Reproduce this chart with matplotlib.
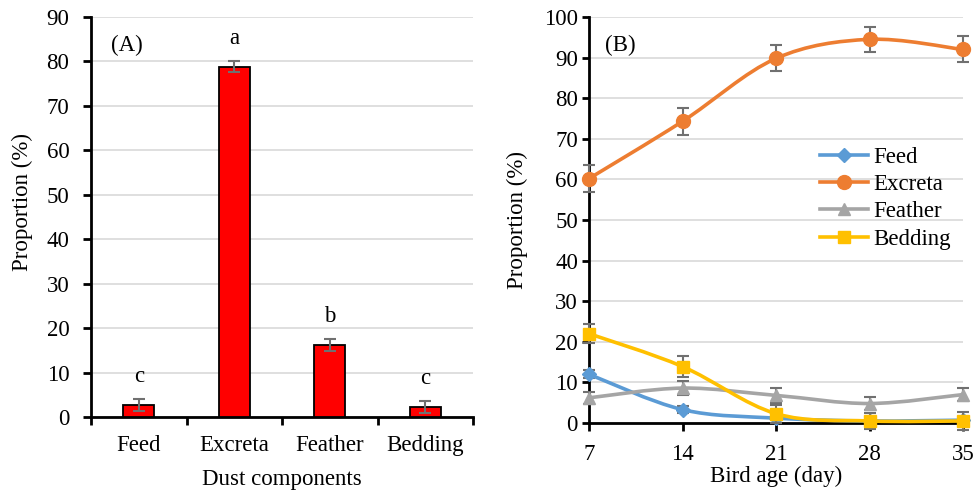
import numpy as np
import matplotlib
matplotlib.use("Agg")
import matplotlib.pyplot as plt
from matplotlib.path import Path
from matplotlib.patches import PathPatch
from matplotlib.lines import Line2D

plt.rcParams['font.family'] = ['Liberation Serif', 'DejaVu Serif']

# ---------------- data ----------------
components = ["Feed", "Excreta", "Feather", "Bedding"]
comp_values = [2.7, 78.8, 16.2, 2.2]
comp_errors = [1.3, 1.2, 1.3, 1.3]
comp_letters = ["c", "a", "b", "c"]

ages = [7, 14, 21, 28, 35]
feed = [12.0, 3.3, 1.2, 0.5, 0.7]
excreta = [60.2, 74.3, 89.8, 94.5, 92.0]
feather = [6.2, 8.6, 6.8, 4.8, 7.0]
bedding = [22.0, 13.9, 2.3, 0.5, 0.5]
feed_err = [1.0, 0.8, 0.5, 0.3, 0.3]
excreta_err = [3.3, 3.3, 3.2, 3.1, 3.2]
feather_err = [1.5, 1.8, 1.8, 1.6, 1.6]
bedding_err = [2.4, 2.5, 2.2, 2.0, 2.3]

series_names = ["Feed", "Excreta", "Feather", "Bedding"]
series_vals = [feed, excreta, feather, bedding]
series_errs = [feed_err, excreta_err, feather_err, bedding_err]
series_colors = ["#5B9BD5", "#ED7D31", "#A5A5A5", "#FFC000"]
series_markers = ["D", "o", "^", "s"]
series_msize = [7.5, 10, 8.5, 9]

FS = 16.5
ERR_COLOR = "#707070"
GRID_COLOR = "#D9D9D9"

fig = plt.figure(figsize=(9.76, 4.9), dpi=100)

# ---------------- panel A ----------------
axA = fig.add_axes([91/976, 73/490, 382/976, 400/490])
x = np.arange(len(components))
axA.bar(x, comp_values, width=0.32, color="#FF0000", edgecolor="black",
        linewidth=1.3, zorder=3)
axA.errorbar(x, comp_values, yerr=comp_errors, fmt="none", ecolor=ERR_COLOR,
             elinewidth=1.5, capsize=4, capthick=1.5, zorder=4)
for xi, v, e, lab in zip(x, comp_values, comp_errors, comp_letters):
    axA.annotate(lab, (xi, v + e), xytext=(0, 9), textcoords="offset points",
                 ha="center", va="bottom", fontsize=FS)
axA.set_xlim(-0.5, len(components) - 0.5)
axA.set_ylim(0, 90)
axA.set_yticks(np.arange(0, 91, 10))
axA.set_xticks(x)
axA.set_xticklabels(components)
axA.set_xticks(np.arange(-0.5, len(components), 1.0), minor=True)
axA.tick_params(axis="x", which="major", length=0, pad=13, labelsize=FS)
axA.tick_params(axis="x", which="minor", length=6, width=2, direction="out")
axA.tick_params(axis="y", length=5.5, width=2, direction="out", labelsize=FS, pad=10)
axA.grid(axis="y", color=GRID_COLOR, linewidth=1.2, zorder=0)
axA.set_axisbelow(True)
for s in ["top", "right"]:
    axA.spines[s].set_visible(False)
for s in ["left", "bottom"]:
    axA.spines[s].set_linewidth(2)
axA.set_ylabel("Proportion (%)", fontsize=FS)
axA.yaxis.set_label_coords(-0.152, 0.5375)
axA.set_xlabel("Dust components", fontsize=FS, labelpad=9)
axA.text(0.094, 0.93, "(A)", transform=axA.transAxes, ha="center", va="center",
         fontsize=FS)

# ---------------- panel B ----------------
axB = fig.add_axes([589/976, 67/490, 374/976, 406/490])


def smooth_path(xs, ys):
    xs = np.asarray(xs, float)
    ys = np.asarray(ys, float)
    n = len(xs)
    verts = [(xs[0], ys[0])]
    codes = [Path.MOVETO]
    for i in range(n - 1):
        i0 = max(i - 1, 0)
        i3 = min(i + 2, n - 1)
        c1 = (xs[i] + (xs[i + 1] - xs[i0]) / 6.0, ys[i] + (ys[i + 1] - ys[i0]) / 6.0)
        c2 = (xs[i + 1] - (xs[i3] - xs[i]) / 6.0, ys[i + 1] - (ys[i3] - ys[i]) / 6.0)
        verts += [c1, c2, (xs[i + 1], ys[i + 1])]
        codes += [Path.CURVE4] * 3
    return Path(verts, codes)


handles = []
for k, (name, vals, errs, col, mk, ms) in enumerate(
        zip(series_names, series_vals, series_errs, series_colors,
            series_markers, series_msize)):
    z = 3 + k
    axB.errorbar(ages, vals, yerr=errs, fmt="none", ecolor=ERR_COLOR,
                 elinewidth=1.5, capsize=4, capthick=1.5, zorder=z, clip_on=False)
    patch = PathPatch(smooth_path(ages, vals), facecolor="none", edgecolor=col,
                      linewidth=2.6, zorder=z + 0.1, clip_on=False,
                      capstyle="round", joinstyle="round")
    axB.add_patch(patch)
    axB.plot(ages, vals, linestyle="none", marker=mk, markersize=ms, color=col,
             markeredgecolor=col, zorder=z + 0.2, clip_on=False)
    handles.append(Line2D([], [], color=col, linewidth=2.6, marker=mk,
                          markersize=ms, markeredgecolor=col, label=name))

axB.set_xlim(7, 35)
axB.set_ylim(0, 100)
axB.set_xticks(ages)
axB.set_yticks(np.arange(0, 101, 10))
axB.tick_params(axis="x", length=6, width=2, direction="out", labelsize=FS, pad=9)
axB.tick_params(axis="y", length=5, width=2, direction="out", labelsize=FS, pad=3)
axB.grid(axis="y", color=GRID_COLOR, linewidth=1.2, zorder=0)
axB.set_axisbelow(True)
for s in ["top", "right"]:
    axB.spines[s].set_visible(False)
for s in ["left", "bottom"]:
    axB.spines[s].set_linewidth(2)
    axB.spines[s].set_zorder(2.5)
axB.set_ylabel("Proportion (%)", fontsize=FS)
axB.yaxis.set_label_coords(-0.162, 0.5)
axB.set_xlabel("Bird age (day)", fontsize=FS, labelpad=1)
axB.text(0.085, 0.931, "(B)", transform=axB.transAxes, ha="center", va="center",
         fontsize=FS)
axB.legend(handles=handles, loc="upper left", bbox_to_anchor=(0.618, 0.68),
           frameon=False, fontsize=FS, handlelength=2.1, handletextpad=0.2,
           labelspacing=0.27, borderpad=0, borderaxespad=0)

fig.savefig("out.png", dpi=100)
